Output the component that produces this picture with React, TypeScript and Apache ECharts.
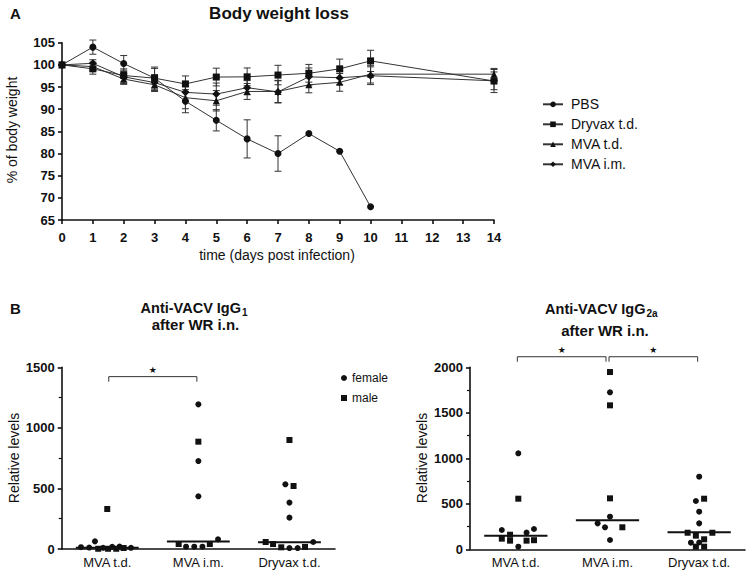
import React, { useEffect, useRef } from "react";
import * as echarts from "echarts";

// ---------- Panel A: body weight ----------
const days = [0, 1, 2, 3, 4, 5, 6, 7, 8, 9, 10, 14];
const pbsDays = [0, 1, 2, 3, 4, 5, 6, 7, 8, 9, 10];
const pbsMean = [100, 104, 100.3, 97, 91.8, 87.5, 83.3, 80, 84.5, 80.5, 68];
const pbsErr = [0, 1.6, 1.8, 2.5, 2.6, 2.4, 4.3, 4, 0, 0, 0];
const dryvaxMean = [100, 99.1, 97.6, 97.0, 95.7, 97.25, 97.3, 97.7, 98.1, 99.1, 100.9, 96.35];
const dryvaxErr = [0, 1.2, 1.5, 2.2, 1.8, 2.0, 2.0, 2.2, 2.0, 2.2, 2.4, 2.6];
const mvaTdMean = [100, 99.6, 96.8, 95.5, 92.6, 91.9, 94.0, 94.0, 95.5, 96.05, 97.9, 97.9];
const mvaTdErr = [0, 1.0, 1.2, 1.5, 2.5, 2.3, 1.8, 2.5, 1.8, 2.0, 2.0, 1.3];
const mvaImMean = [100, 100.35, 97.3, 96.0, 93.8, 93.4, 94.85, 93.9, 97.3, 97.1, 97.55, 96.4];
const mvaImErr = [0, 0.8, 1.5, 1.8, 2.0, 2.5, 1.6, 2.5, 2.0, 1.5, 2.0, 2.0];
const weightTicksX = { min: 0, max: 14, interval: 1 };
const weightTicksY = { min: 65, max: 105, interval: 5 };

// ---------- Panel B: antibody levels ----------
const groups = ["MVA t.d.", "MVA i.m.", "Dryvax t.d."];
// [jitter slot, value, sex]
const igg1MvaTd: [number, number, string][] = [
  [-3.2, 15, "f"], [-2.2, 12, "f"], [-1.5, 63, "f"], [-1.1, 2, "m"], [-0.5, 10, "f"],
  [0, 330, "m"], [0.1, 2, "m"], [0.6, 18, "f"], [1.1, 2, "m"], [1.5, 20, "f"], [2.0, 8, "m"], [2.9, 10, "f"],
];
const igg1MvaIm: [number, number, string][] = [
  [0, 1194, "f"], [0, 886, "m"], [0, 726, "f"], [0, 435, "f"],
  [-2.4, 41, "m"], [-1.5, 19, "f"], [-0.5, 19, "f"], [0.5, 19, "f"], [1.4, 41, "m"], [2.4, 80, "f"],
];
const igg1Dryvax: [number, number, string][] = [
  [0, 900, "m"], [-0.5, 534, "f"], [0.5, 520, "m"], [0, 383, "f"], [0, 259, "f"],
  [-2.9, 58, "m"], [-2, 41, "m"], [-1, 14, "m"], [0, 8, "f"], [1, 8, "f"], [1.9, 17, "m"], [2.9, 58, "f"],
];
const igg1Median = [10, 61, 55];

const igg2aMvaTd: [number, number, string][] = [
  [0.3, 1055, "f"], [0.3, 556, "m"], [-1.7, 212, "f"], [-0.7, 160, "m"], [1.3, 183, "f"], [2.2, 223, "f"],
  [-1.7, 117, "m"], [-0.7, 95, "m"], [0.3, 29, "f"], [1.3, 95, "m"], [2.2, 100, "m"],
];
const igg2aMvaIm: [number, number, string][] = [
  [0.3, 1948, "m"], [0.3, 1725, "f"], [0.3, 1582, "m"], [0.3, 560, "m"], [0.3, 358, "f"],
  [-1.2, 285, "f"], [-0.3, 242, "f"], [1.8, 242, "m"], [0.3, 102, "f"],
];
const igg2aDryvax: [number, number, string][] = [
  [0, 798, "f"], [-0.4, 531, "f"], [0.6, 556, "m"], [0, 413, "f"], [0, 285, "f"],
  [-1.4, 182, "m"], [-0.4, 150, "m"], [0.6, 110, "m"], [1.6, 182, "m"],
  [-1, 73, "f"], [0, 75, "f"], [-0.4, 29, "m"], [0.6, 29, "m"],
];
const igg2aMedian = [150, 320, 187];

// significance comparisons: [from group, to group, bracket height]
const igg1Sig = [[0, 1, 1423]];
const igg2aSig = [[0, 1, 2116], [1, 2, 2116]];

const FONT = "'Liberation Sans', Arial, Helvetica, sans-serif";
const INK = "#111";

function errBarSeries(name: string, xs: number[], mean: number[], err: number[]) {
  return {
    type: "custom",
    name: name + "-err",
    xAxisIndex: 0,
    yAxisIndex: 0,
    z: 1,
    silent: true,
    data: xs.map((d, i) => [d, mean[i], err[i]]),
    encode: { x: 0, y: 1 },
    renderItem: (_p: any, api: any) => {
      const x = api.value(0), m = api.value(1), e = api.value(2);
      if (!e) return { type: "group", children: [] };
      const t = api.coord([x, m + e]);
      const b = api.coord([x, m - e]);
      const w = 3.5;
      const style = { stroke: "#333", lineWidth: 1 };
      return {
        type: "group",
        children: [
          { type: "line", shape: { x1: t[0], y1: t[1], x2: b[0], y2: b[1] }, style },
          { type: "line", shape: { x1: t[0] - w, y1: t[1], x2: t[0] + w, y2: t[1] }, style },
          { type: "line", shape: { x1: b[0] - w, y1: b[1], x2: b[0] + w, y2: b[1] }, style },
        ],
      };
    },
  };
}

function lineSeries(name: string, xs: number[], mean: number[], symbol: string, size: number) {
  return {
    type: "line",
    name,
    xAxisIndex: 0,
    yAxisIndex: 0,
    z: 3,
    data: xs.map((d, i) => [d, mean[i]]),
    symbol,
    symbolSize: size,
    showAllSymbol: true,
    lineStyle: { color: "#333", width: 1 },
    itemStyle: { color: INK, opacity: 1 },
  };
}

const SLOT = 0.09;
function scatterPts(groupsPts: [number, number, string][][], sex: string) {
  const out: number[][] = [];
  groupsPts.forEach((pts, gi) => {
    pts.forEach(([s, v, g]) => {
      if (g === sex) out.push([gi + 0.5 + s * SLOT, v]);
    });
  });
  return out;
}

function scatterSeries(name: string, idx: number, pts: number[][], symbol: string, size: number) {
  return {
    type: "scatter",
    name,
    xAxisIndex: idx,
    yAxisIndex: idx,
    symbol,
    symbolSize: size,
    itemStyle: { color: INK, opacity: 1 },
    data: pts,
    z: 3,
  };
}

function medianSeries(idx: number, med: number[]) {
  return {
    type: "custom",
    xAxisIndex: idx,
    yAxisIndex: idx,
    silent: true,
    z: 2,
    data: med.map((m, i) => [i + 0.5, m]),
    encode: { x: 0, y: 1 },
    renderItem: (_p: any, api: any) => {
      const c = api.coord([api.value(0), api.value(1)]);
      const hw = api.size([0.345, 0])[0];
      return {
        type: "line",
        shape: { x1: c[0] - hw, y1: c[1], x2: c[0] + hw, y2: c[1] },
        style: { stroke: INK, lineWidth: 2 },
      };
    },
  };
}

function sigSeries(idx: number, sig: number[][]) {
  return {
    type: "custom",
    xAxisIndex: idx,
    yAxisIndex: idx,
    silent: true,
    clip: false,
    z: 2,
    data: sig.map(([a, b, h]) => [a + 0.5, b + 0.5, h]),
    encode: { x: [0, 1], y: 2 },
    renderItem: (_p: any, api: any) => {
      const p1 = api.coord([api.value(0), api.value(2)]);
      const p2 = api.coord([api.value(1), api.value(2)]);
      const gap = 1.5;
      const x1 = p1[0] + gap, x2 = p2[0] - gap, y = p1[1];
      const style = { stroke: "#333", lineWidth: 1 };
      return {
        type: "group",
        children: [
          { type: "line", shape: { x1, y1: y, x2, y2: y }, style },
          { type: "line", shape: { x1, y1: y, x2: x1, y2: y + 5 }, style },
          { type: "line", shape: { x1: x2, y1: y, x2, y2: y + 5 }, style },
          {
            type: "text",
            x: (x1 + x2) / 2,
            y: y - 7,
            style: { text: "★", fontSize: 9, fill: INK, align: "center", verticalAlign: "middle", fontFamily: "'DejaVu Sans', sans-serif" },
          },
        ],
      };
    },
  };
}

const plain = (v: number) => String(v);
const boldTick = { color: INK, fontWeight: "bold" as const, fontSize: 13, fontFamily: FONT, formatter: plain };
const axisLineStyle = { show: true, lineStyle: { color: INK, width: 1.6 } };
const tickStyle = { show: true, length: 4, lineStyle: { color: INK, width: 1.6 } };

function catLabel(v: number) {
  const k = Math.round(v * 2);
  if (k % 2 === 1) return groups[(k - 1) / 2] || "";
  return "";
}

function txt(text: string, x: number, y: number, font: string, align = "center", rotation = 0) {
  return {
    type: "text",
    x,
    y,
    rotation,
    style: { text, font, fill: INK, align, verticalAlign: "middle" },
  };
}

export default function App() {
  const ref = useRef<HTMLDivElement>(null);
  useEffect(() => {
    if (!ref.current) return;
    const chart = echarts.init(ref.current, undefined, { renderer: "svg" });
    const option: any = {
      animation: false,
      backgroundColor: "#fff",
      textStyle: { fontFamily: FONT },
      grid: [
        { left: 62, top: 42.7, width: 432, height: 177.3 },
        { left: 61.7, top: 367.3, width: 273.3, height: 181.7 },
        { left: 470, top: 367.3, width: 275, height: 182 },
      ],
      xAxis: [
        {
          gridIndex: 0, type: "value", ...weightTicksX,
          axisLine: axisLineStyle, axisTick: tickStyle,
          axisLabel: { ...boldTick, margin: 11 }, splitLine: { show: false },
        },
        {
          gridIndex: 1, type: "value", min: 0, max: 3, interval: 0.5,
          axisLine: axisLineStyle, axisTick: { show: false },
          axisLabel: { color: INK, fontSize: 13, fontFamily: FONT, margin: 7, formatter: catLabel },
          splitLine: { show: false },
        },
        {
          gridIndex: 2, type: "value", min: 0, max: 3, interval: 0.5,
          axisLine: axisLineStyle, axisTick: { show: false },
          axisLabel: { color: INK, fontSize: 13, fontFamily: FONT, margin: 7, formatter: catLabel },
          splitLine: { show: false },
        },
      ],
      yAxis: [
        {
          gridIndex: 0, type: "value", ...weightTicksY,
          axisLine: axisLineStyle, axisTick: tickStyle,
          axisLabel: { ...boldTick, margin: 7 }, splitLine: { show: false },
        },
        {
          gridIndex: 1, type: "value", min: 0, max: 1500, interval: 500,
          axisLine: axisLineStyle, axisTick: tickStyle,
          minorTick: { show: true, splitNumber: 2, length: 3, lineStyle: { color: INK, width: 1.2 } },
          axisLabel: { ...boldTick, margin: 7 }, splitLine: { show: false },
        },
        {
          gridIndex: 2, type: "value", min: 0, max: 2000, interval: 500,
          axisLine: axisLineStyle, axisTick: tickStyle,
          minorTick: { show: true, splitNumber: 2, length: 3, lineStyle: { color: INK, width: 1.2 } },
          axisLabel: { ...boldTick, margin: 7 }, splitLine: { show: false },
        },
      ],
      legend: [
        {
          data: ["PBS", "Dryvax t.d.", "MVA t.d.", "MVA i.m."],
          orient: "vertical", left: 537, top: 92.3,
          itemWidth: 20, itemHeight: 7, itemGap: 6,
          textStyle: { fontSize: 14, lineHeight: 14, color: INK, fontFamily: FONT, padding: [0, 0, 0, 3] },
          selectedMode: false,
        },
        {
          data: ["female", "male"],
          orient: "vertical", left: 336, top: 366,
          itemWidth: 6, itemHeight: 6, itemGap: 6,
          textStyle: { fontSize: 12, lineHeight: 14, color: INK, fontFamily: FONT },
          selectedMode: false,
        },
      ],
      graphic: [
        txt("A", 10, 13, `bold 15px ${FONT}`, "left"),
        txt("Body weight loss", 279, 13, `bold 17px ${FONT}`),
        txt("% of body weight", 12, 130, `14px ${FONT}`, "center", Math.PI / 2),
        txt("time (days post infection)", 277, 255, `14px ${FONT}`),
        txt("B", 10, 308, `bold 15px ${FONT}`, "left"),
        txt("Anti-VACV IgG", 241, 308, `bold 14.5px ${FONT}`, "right"),
        txt("1", 242, 312, `bold 10px ${FONT}`, "left"),
        txt("after WR i.n.", 195.5, 324, `bold 15px ${FONT}`),
        txt("Relative levels", 14, 458, `14px ${FONT}`, "center", Math.PI / 2),
        txt("Anti-VACV IgG", 645.5, 309, `bold 14.5px ${FONT}`, "right"),
        txt("2a", 646.5, 313, `bold 10px ${FONT}`, "left"),
        txt("after WR i.n.", 605, 330, `bold 15px ${FONT}`),
        txt("Relative levels", 421.5, 458, `14px ${FONT}`, "center", Math.PI / 2),
      ],
      series: [
        errBarSeries("PBS", pbsDays, pbsMean, pbsErr),
        errBarSeries("Dryvax t.d.", days, dryvaxMean, dryvaxErr),
        errBarSeries("MVA t.d.", days, mvaTdMean, mvaTdErr),
        errBarSeries("MVA i.m.", days, mvaImMean, mvaImErr),
        lineSeries("PBS", pbsDays, pbsMean, "circle", 7),
        lineSeries("Dryvax t.d.", days, dryvaxMean, "rect", 7),
        lineSeries("MVA t.d.", days, mvaTdMean, "triangle", 7),
        lineSeries("MVA i.m.", days, mvaImMean, "diamond", 8),
        scatterSeries("female", 1, scatterPts([igg1MvaTd, igg1MvaIm, igg1Dryvax], "f"), "circle", 6),
        scatterSeries("male", 1, scatterPts([igg1MvaTd, igg1MvaIm, igg1Dryvax], "m"), "rect", 6),
        scatterSeries("female", 2, scatterPts([igg2aMvaTd, igg2aMvaIm, igg2aDryvax], "f"), "circle", 6),
        scatterSeries("male", 2, scatterPts([igg2aMvaTd, igg2aMvaIm, igg2aDryvax], "m"), "rect", 6),
        medianSeries(1, igg1Median),
        medianSeries(2, igg2aMedian),
        sigSeries(1, igg1Sig),
        sigSeries(2, igg2aSig),
      ],
    };
    chart.setOption(option);
    return () => chart.dispose();
  }, []);
  return (
    <div
      ref={ref}
      style={{ position: "absolute", left: 0, top: 0, width: 750, height: 584, background: "#fff" }}
    />
  );
}
